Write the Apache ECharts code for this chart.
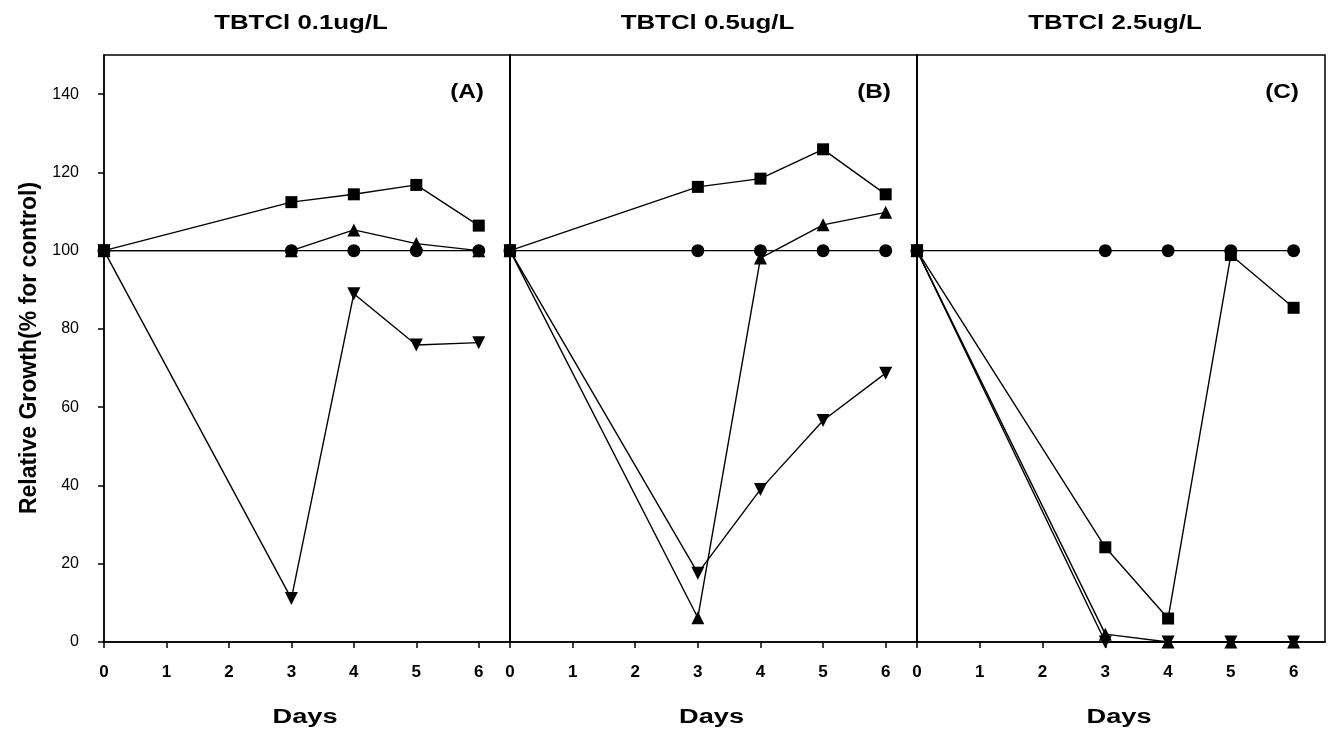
<!DOCTYPE html>
<html>
<head>
<meta charset="UTF-8">
<title>TBTCl relative growth</title>
<script src="https://cdn.jsdelivr.net/npm/echarts@6/dist/echarts.min.js"></script>
<style>
  html, body { margin: 0; padding: 0; background: #fff; }
  #main { width: 1330px; height: 737px; }
</style>
</head>
<body>
<div id="main"></div>
<script>
  // data
  var days = [0, 3, 4, 5, 6];
  var dayTicks = [0, 1, 2, 3, 4, 5, 6];
  var growthTicks = [0, 20, 40, 60, 80, 100, 120, 140];
  var panelTitles = ['TBTCl 0.1ug/L', 'TBTCl 0.5ug/L', 'TBTCl 2.5ug/L'];
  var panelTags = ['(A)', '(B)', '(C)'];

  var aCircle = [100, 100, 100, 100, 100];
  var aSquare = [100, 112.4, 114.4, 116.8, 106.4];
  var aUp = [100, 100, 105.3, 101.8, 100];
  var aDown = [100, 11.1, 89.0, 75.9, 76.5];

  var bCircle = [100, 100, 100, 100, 100];
  var bSquare = [100, 116.3, 118.4, 125.9, 114.4];
  var bUp = [100, 6.2, 98.1, 106.6, 109.8];
  var bDown = [100, 17.6, 39.0, 56.6, 68.7];

  var cCircle = [100, 100, 100, 100, 100];
  var cSquare = [100, 24.2, 6.0, 98.9, 85.4];
  var cUp = [100, 2, 0, 0, 0];
  var cDown = [100, 0, 0, 0, 0];

  var panels = [
    [aCircle, aSquare, aUp, aDown],
    [bCircle, bSquare, bUp, bDown],
    [cCircle, cSquare, cUp, cDown]
  ];

  var font = 'Liberation Sans, Arial, sans-serif';
  var gridLefts = [104, 510, 917];
  var gridWidths = [406, 407, 408];

  var grids = [], xAxes = [], yAxes = [], series = [], texts = [];

  function label(str, x, y, size, align, sx) {
    return {
      type: 'text', x: x, y: y, scaleX: sx || 1, silent: true,
      style: { text: str, font: 'bold ' + size + 'px ' + font, fill: '#000',
               textAlign: align, textVerticalAlign: 'middle' }
    };
  }

  for (var p = 0; p < 3; p++) {
    grids.push({
      left: gridLefts[p], width: gridWidths[p], top: 55, bottom: 95,
      show: true, borderColor: '#000', borderWidth: 1.5, backgroundColor: 'transparent'
    });
    xAxes.push({
      type: 'value', gridIndex: p, min: 0, max: 6.5,
      axisLine: { lineStyle: { color: '#000', width: 1.5 } },
      axisTick: { customValues: dayTicks, length: 6, lineStyle: { color: '#000', width: 1.5 } },
      axisLabel: { customValues: dayTicks, margin: 22, fontFamily: font, fontSize: 17, fontWeight: 'bold', color: '#000' },
      splitLine: { show: false }
    });
    yAxes.push({
      type: 'value', gridIndex: p, min: 0, max: 150,
      axisLine: { show: true, lineStyle: { color: '#000', width: 1.5 } },
      axisTick: { show: p === 0, customValues: growthTicks, length: 6, lineStyle: { color: '#000', width: 1.5 } },
      axisLabel: { show: p === 0, customValues: growthTicks, margin: 25, fontFamily: font, fontSize: 16, color: '#000' },
      splitLine: { show: false }
    });

    var sets = panels[p];
    var symbols = ['circle', 'rect', 'triangle', 'triangle'];
    var rotates = [0, 0, 0, 180];
    var sizes = [13, 12, 13, 13];
    for (var s = 0; s < 4; s++) {
      series.push({
        type: 'line', xAxisIndex: p, yAxisIndex: p,
        data: days.map(function (d, i) { return [d, sets[s][i]]; }),
        symbol: symbols[s], symbolRotate: rotates[s], symbolSize: sizes[s],
        showAllSymbol: true, clip: false, animation: false,
        lineStyle: { color: '#000', width: 1.4 },
        itemStyle: { color: '#000', borderColor: '#000', borderWidth: 0 }
      });
    }

    var mid = gridLefts[p] + gridWidths[p] / 2;
    texts.push(label(panelTitles[p], mid - 6, 23, 21, 'center', 1.23));
    texts.push(label(panelTags[p], gridLefts[p] + gridWidths[p] - 26, 92, 20, 'right', 1.22));
    texts.push(label('Days', mid - 2, 717, 20, 'center', 1.36));
  }

  texts.push({
    type: 'text', x: 30, y: 348, rotation: Math.PI / 2, silent: true,
    style: { text: 'Relative Growth(% for control)', font: 'bold 23px ' + font, fill: '#000',
             textAlign: 'center', textVerticalAlign: 'middle' }
  });

  var chart = echarts.init(document.getElementById('main'));
  chart.setOption({
    backgroundColor: '#fff',
    animation: false,
    grid: grids,
    xAxis: xAxes,
    yAxis: yAxes,
    series: series,
    graphic: texts
  });
</script>
</body>
</html>
